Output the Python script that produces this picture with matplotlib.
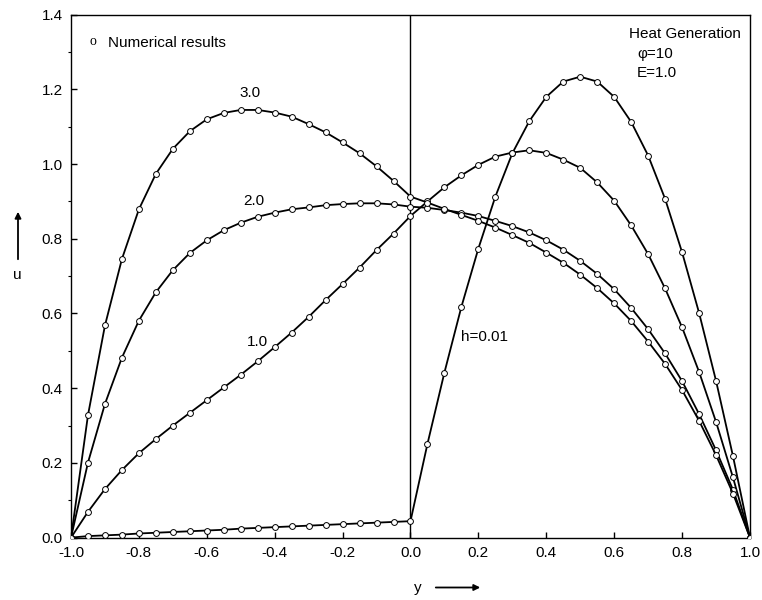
import numpy as np
import matplotlib
matplotlib.use("Agg")
import matplotlib.pyplot as plt
from matplotlib.ticker import MultipleLocator

plt.rcParams['font.family'] = ['Liberation Sans', 'DejaVu Sans']

# grid of collocation points across the channel, y = -1 .. 1 step 0.05
y = np.linspace(-1.0, 1.0, 41)

# velocity profiles u(y) for each h
u_h001 = [0.000, 0.004, 0.006, 0.008, 0.011, 0.013, 0.015, 0.017, 0.019, 0.021,
          0.024, 0.026, 0.028, 0.030, 0.032, 0.034, 0.036, 0.038, 0.040, 0.042,
          0.044, 0.251, 0.442, 0.618, 0.774, 0.913, 1.029, 1.115, 1.180, 1.221,
          1.234, 1.221, 1.180, 1.113, 1.023, 0.907, 0.764, 0.602, 0.420, 0.218,
          0.000]
u_h1 = [0.000, 0.069, 0.130, 0.181, 0.226, 0.264, 0.300, 0.334, 0.368, 0.402,
        0.436, 0.472, 0.510, 0.549, 0.591, 0.636, 0.679, 0.723, 0.770, 0.814,
        0.861, 0.900, 0.938, 0.970, 0.998, 1.020, 1.031, 1.037, 1.030, 1.012,
        0.990, 0.951, 0.902, 0.836, 0.759, 0.667, 0.563, 0.444, 0.310, 0.161,
        0.000]
u_h2 = [0.000, 0.201, 0.358, 0.482, 0.581, 0.657, 0.716, 0.762, 0.796, 0.823,
        0.843, 0.859, 0.870, 0.879, 0.884, 0.890, 0.893, 0.895, 0.895, 0.892,
        0.886, 0.883, 0.877, 0.870, 0.861, 0.848, 0.834, 0.817, 0.796, 0.771,
        0.741, 0.706, 0.665, 0.615, 0.558, 0.493, 0.419, 0.331, 0.234, 0.128,
        0.000]
u_h3 = [0.000, 0.328, 0.568, 0.746, 0.879, 0.974, 1.041, 1.088, 1.120, 1.137,
        1.145, 1.145, 1.138, 1.127, 1.107, 1.085, 1.058, 1.029, 0.994, 0.955,
        0.913, 0.897, 0.880, 0.864, 0.848, 0.830, 0.810, 0.789, 0.763, 0.736,
        0.704, 0.668, 0.627, 0.580, 0.525, 0.465, 0.395, 0.313, 0.221, 0.118,
        0.000]

fig = plt.figure(figsize=(7.62, 6.0), dpi=100)
ax = fig.add_axes([0.0932, 0.104, 0.891, 0.8715])

for u in (u_h001, u_h1, u_h2, u_h3):
    ax.plot(y, u, '-', color='k', lw=1.3, marker='o', ms=4.2,
            mfc='white', mec='k', mew=0.7, zorder=3)

# interface between the two fluid layers
ax.axvline(0.0, color='k', lw=1.0, zorder=2)

ax.set_xlim(-1.0, 1.0)
ax.set_ylim(0.0, 1.4)
ax.xaxis.set_major_locator(MultipleLocator(0.2))
ax.yaxis.set_major_locator(MultipleLocator(0.2))
ax.yaxis.set_minor_locator(MultipleLocator(0.1))
ax.xaxis.set_major_formatter(plt.FormatStrFormatter('%.1f'))
ax.yaxis.set_major_formatter(plt.FormatStrFormatter('%.1f'))
ax.tick_params(axis='both', which='major', direction='in', length=4, width=1,
               labelsize=11, pad=6)
ax.tick_params(axis='y', which='minor', direction='out', length=2, width=0.8)
for s in ax.spines.values():
    s.set_linewidth(1.0)

# curve labels
ax.text(-0.473, 1.19, '3.0', fontsize=11, ha='center', va='center')
ax.text(-0.461, 0.902, '2.0', fontsize=11, ha='center', va='center')
ax.text(-0.451, 0.524, '1.0', fontsize=11, ha='center', va='center')
ax.text(0.150, 0.536, 'h=0.01', fontsize=11, ha='left', va='center')

ax.text(-0.935, 1.327, 'o', fontsize=10, family='Liberation Serif',
        ha='center', va='center')
ax.text(-0.891, 1.325, 'Numerical results', fontsize=11, ha='left', va='center')

ax.text(0.645, 1.347, 'Heat Generation', fontsize=11, ha='left', va='center')
ax.text(0.667, 1.296, 'φ=10', fontsize=11, ha='left', va='center')
ax.text(0.666, 1.244, 'E=1.0', fontsize=11, ha='left', va='center')

# axis labels with arrows
fig.text(17 / 762, 1 - 275 / 600, 'u', fontsize=11, ha='center', va='center')
fig.text(418 / 762, 1 - 588 / 600, 'y', fontsize=11, ha='center', va='center')
fig.patches.append(matplotlib.patches.FancyArrowPatch(
    (18 / 762, 1 - 262 / 600), (18 / 762, 1 - 209 / 600),
    transform=fig.transFigure, arrowstyle='-|>', mutation_scale=9,
    lw=1.3, color='k'))
fig.patches.append(matplotlib.patches.FancyArrowPatch(
    (433 / 762, 1 - 587.5 / 600), (483 / 762, 1 - 587.5 / 600),
    transform=fig.transFigure, arrowstyle='-|>', mutation_scale=9,
    lw=1.3, color='k'))

fig.savefig('out.png', dpi=100)
